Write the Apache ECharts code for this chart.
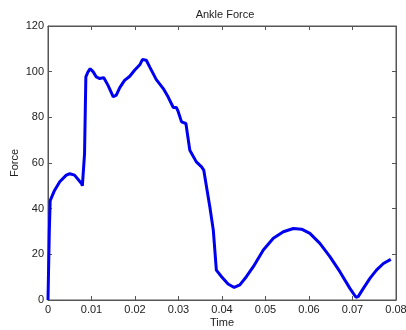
<!DOCTYPE html>
<html>
<head>
<meta charset="utf-8">
<script src="https://cdn.jsdelivr.net/npm/echarts@6/dist/echarts.min.js"></script>
<style>
  html, body { margin: 0; padding: 0; background: #fff; }
  #chart { width: 406px; height: 330px; }
</style>
</head>
<body>
<div id="chart"></div>
<script>
// values
const time = [0, 0.0003, 0.0005, 0.0015, 0.0027, 0.0042, 0.005, 0.0061, 0.0077, 0.0079, 0.0084, 0.0087,
  0.0092, 0.0097, 0.0104, 0.0111, 0.0119, 0.0128, 0.0138, 0.015, 0.0157, 0.0165, 0.0176, 0.0188,
  0.0199, 0.0211, 0.0217, 0.0226, 0.0234, 0.0249, 0.0265, 0.0276, 0.0288, 0.0295, 0.0299, 0.0307,
  0.0317, 0.0326, 0.0341, 0.0353, 0.0358, 0.0372, 0.038, 0.0387, 0.0399, 0.0414, 0.0428, 0.0441,
  0.0456, 0.0472, 0.0495, 0.0518, 0.0541, 0.0564, 0.0583, 0.0602, 0.0625, 0.0648, 0.0671, 0.0694,
  0.0708, 0.0713, 0.0725, 0.074, 0.0755, 0.0771, 0.0788];
const force = [0, 30, 43.5, 48, 51.8, 54.7, 55.3, 54.7, 51, 50, 64, 97.7,
  99.9, 101.3, 99.9, 97.7, 97, 97.4, 94, 89, 89.7, 93, 96.2, 98,
  100.6, 103, 105.3, 105, 102, 96.5, 92.6, 89, 84.3, 84.3, 82.7, 78,
  77.3, 65.6, 60.5, 58.3, 56.9, 40.8, 30.6, 13.1, 10.2, 7, 5.5, 6.6,
  10.2, 14.6, 21.9, 27, 29.9, 31.3, 31, 29.2, 24.8, 19, 12.4, 5.1,
  1.2, 1.5, 5.1, 9.5, 13.1, 16, 17.8];
const xTickLabels = ['0', '0.01', '0.02', '0.03', '0.04', '0.05', '0.06', '0.07', '0.08'];
const yTickLabels = ['0', '20', '40', '60', '80', '100', '120'];

const axisColor = '#555';
const font = 'Liberation Sans, Arial, sans-serif';

const chart = echarts.init(document.getElementById('chart'), null, { renderer: 'canvas' });

const baseX = {
  type: 'value', min: 0, max: 0.08, interval: 0.01,
  axisLine: { show: true, onZero: false, lineStyle: { color: axisColor, width: 1 } },
  axisTick: { show: true, inside: true, length: 4, lineStyle: { color: axisColor } },
  splitLine: { show: false }
};
const baseY = {
  type: 'value', min: 0, max: 120, interval: 20,
  axisLine: { show: true, onZero: false, lineStyle: { color: axisColor, width: 1 } },
  axisTick: { show: true, inside: true, length: 4, lineStyle: { color: axisColor } },
  splitLine: { show: false }
};

chart.setOption({
  animation: false,
  backgroundColor: '#fff',
  title: {
    text: 'Ankle Force', left: 220, top: 4, textAlign: 'center',
    textStyle: { fontFamily: font, fontSize: 11, fontWeight: 'normal', color: '#222' }
  },
  grid: {
    left: 48, right: 10, top: 26, bottom: 30,
    outerBoundsMode: 'none', containLabel: false,
    show: true, borderColor: axisColor, borderWidth: 1, backgroundColor: 'transparent'
  },
  xAxis: [
    Object.assign({}, baseX, {
      position: 'bottom',
      name: 'Time', nameLocation: 'middle', nameGap: 17, nameMoveOverlap: false,
      nameTextStyle: { fontFamily: font, fontSize: 11, color: '#222' },
      axisLabel: {
        fontFamily: font, fontSize: 11, color: '#222', margin: 4,
        formatter: v => xTickLabels[Math.round(v / 0.01)]
      }
    }),
    Object.assign({}, baseX, { position: 'top', axisLabel: { show: false } })
  ],
  yAxis: [
    Object.assign({}, baseY, {
      position: 'left',
      name: 'Force', nameLocation: 'middle', nameGap: 28, nameMoveOverlap: false,
      nameTextStyle: { fontFamily: font, fontSize: 11, color: '#222' },
      axisLabel: {
        fontFamily: font, fontSize: 11, color: '#222', margin: 4,
        formatter: v => yTickLabels[Math.round(v / 20)]
      }
    }),
    Object.assign({}, baseY, { position: 'right', axisLabel: { show: false } })
  ],
  series: [{
    type: 'line',
    xAxisIndex: 0, yAxisIndex: 0,
    data: time.map((t, i) => [t, force[i]]),
    showSymbol: false,
    smooth: false,
    lineStyle: { color: '#0000f0', width: 3 }
  }]
});
</script>
</body>
</html>
